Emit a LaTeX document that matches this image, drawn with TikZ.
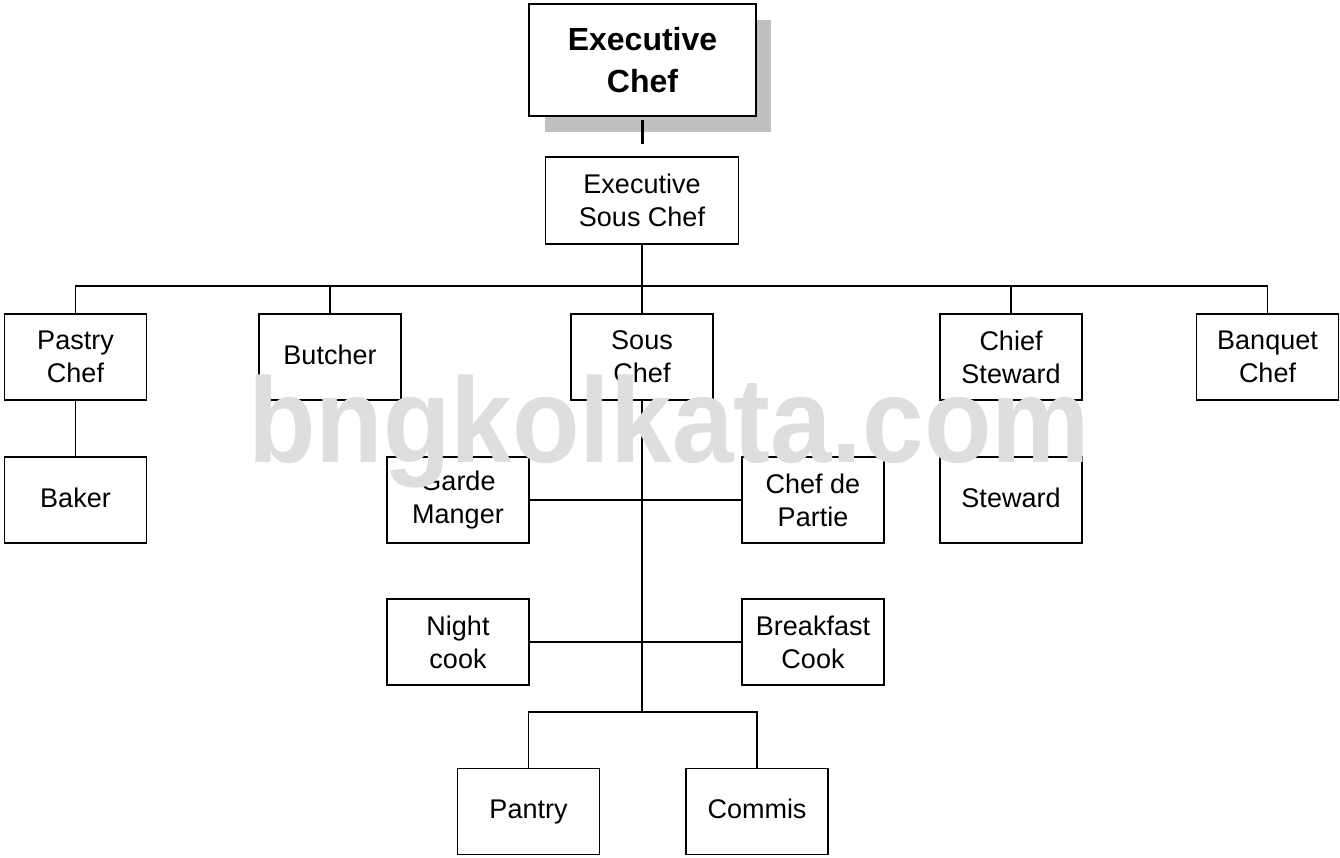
\documentclass[tikz,border=0pt]{standalone}
\usepackage{fontspec}
\setmainfont{Liberation Sans}
\usetikzlibrary{calc}
\definecolor{shadowgray}{RGB}{192,192,192}
\definecolor{wmgray}{RGB}{222,222,222}
\begin{document}
\begin{tikzpicture}[x=1pt,y=-1pt,
  box/.style={draw, line width=1.6pt, inner sep=0pt, align=center,
    minimum width=142pt, minimum height=86pt,
    font=\fontsize{27}{33}\selectfont},
  single/.style={text height=20pt, text depth=6pt},
  link/.style={line width=1.6pt},
]
\useasboundingbox (0,0) rectangle (1340,858);
% shadow of top box
\fill[shadowgray] (545,20) rectangle (771,132);
\node[box, fill=white, minimum width=227pt, minimum height=112pt,
  font=\fontsize{32}{42}\selectfont\bfseries] (ec) at (642.5,60) {Executive\\Chef};
\node[box, minimum width=193pt, minimum height=87pt] (esc) at (642,200.5) {Executive\\Sous Chef};

\node[box] (pastry) at (75.5,357) {Pastry\\Chef};
\node[box, single] (butcher) at (330,357) {Butcher};
\node[box] (sous) at (642,357) {Sous\\Chef};
\node[box] (chiefst) at (1011,357) {Chief\\Steward};
\node[box] (banquet) at (1267.5,357) {Banquet\\Chef};

\node[box, single] (baker) at (75.5,500) {Baker};
\node[box, single] (steward) at (1011,500) {Steward};
\node[box] (garde) at (458,500) {Garde\\Manger};
\node[box] (cdp) at (813,500) {Chef de\\Partie};
\node[box] (night) at (458,642) {Night\\cook};
\node[box] (breakfast) at (813,642) {Breakfast\\Cook};
\node[box, single] (pantry) at (528.5,811.5) {Pantry};
\node[box, single] (commis) at (757,811.5) {Commis};

\coordinate (t1) at (642,120);
\coordinate (t2) at (642,144);
\coordinate (bus) at (642,286);
\coordinate (pb) at (642,712);

\draw[line width=3pt] (t1) -- (t2);
\draw[link] (esc.south) -- (bus);
\draw[link] (pastry.north) |- (bus) -| (banquet.north);
\draw[link] (butcher.north) -- (butcher.north |- bus);
\draw[link] (sous.north) -- (bus);
\draw[link] (chiefst.north) -- (chiefst.north |- bus);
\draw[link] (pastry.south) -- (baker.north);
\draw[link] (chiefst.south) -- (steward.north);
\draw[link] (sous.south) -- (pb);
\draw[link] (garde.east) -- (cdp.west);
\draw[link] (night.east) -- (breakfast.west);
\draw[link] (pantry.north) |- (pb) -| (commis.north);

% watermark
\node[anchor=base, inner sep=0pt, text=wmgray, font=\fontsize{121}{121}\selectfont\bfseries]
  (wm) at (669,462) {\scalebox{0.914}[1]{bngkolkata.com}};
\end{tikzpicture}
\end{document}
